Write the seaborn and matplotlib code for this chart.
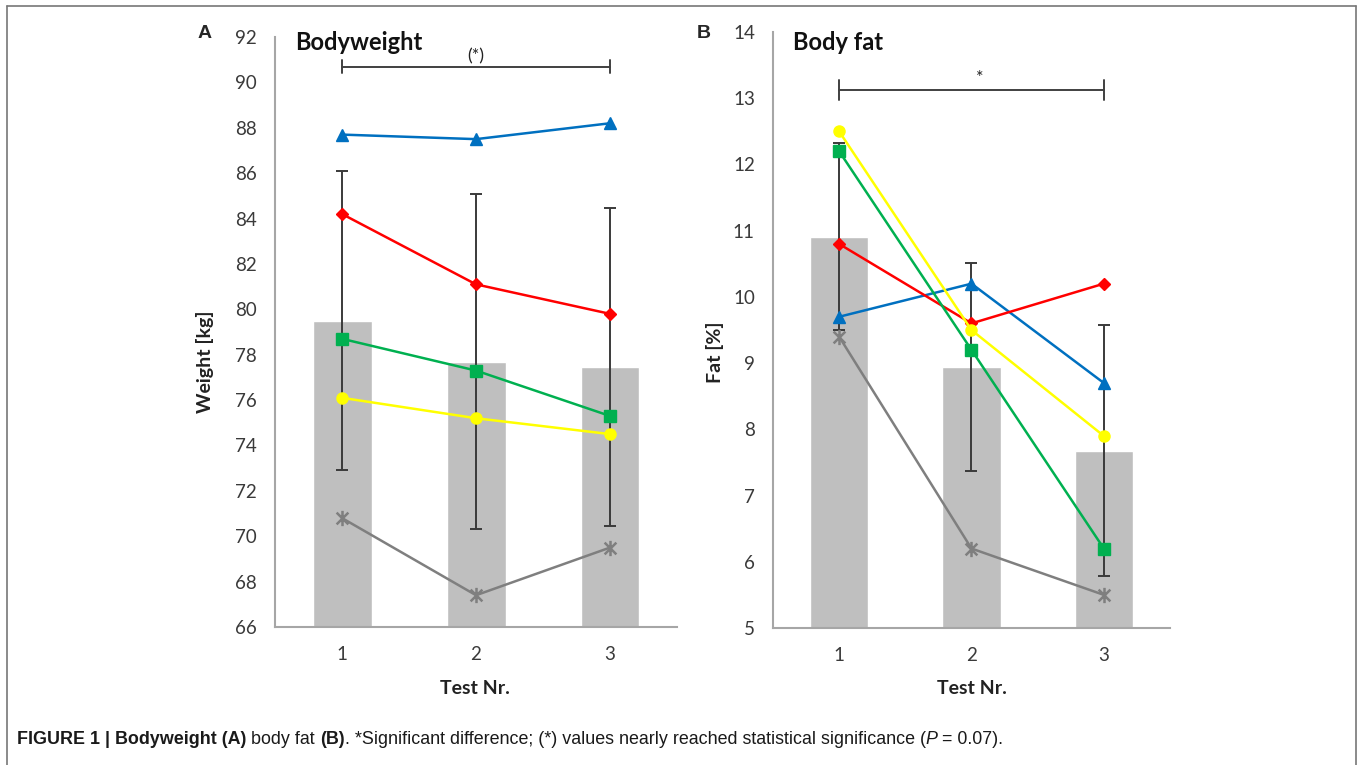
import numpy as np
import pandas as pd
import seaborn as sns
import matplotlib.pyplot as plt
from matplotlib.path import Path
from matplotlib.lines import Line2D

# ---- data ----
tests = ['1', '2', '3']

# panel A: bodyweight [kg]
weight_mean = [79.5, 77.7, 77.45]
weight_sd = [6.6, 7.4, 7.0]
weight_blue = [87.7, 87.5, 88.2]
weight_red = [84.2, 81.1, 79.8]
weight_green = [78.7, 77.3, 75.3]
weight_yellow = [76.1, 75.2, 74.5]
weight_gray = [70.8, 67.4, 69.5]

# panel B: body fat [%]
fat_mean = [10.91, 8.94, 7.68]
fat_sd = [1.41, 1.57, 1.9]
fat_blue = [9.7, 10.2, 8.7]
fat_red = [10.8, 9.6, 10.2]
fat_green = [12.2, 9.2, 6.2]
fat_yellow = [12.5, 9.5, 7.9]
fat_gray = [9.4, 6.2, 5.5]

sns.set_style('white')
plt.rcParams['font.family'] = ['Lato', 'DejaVu Sans']

TXT = '#3a3a3a'
SPINE = '#A6A6A6'

# excel-like star marker: an x with a vertical stroke
star = Path([(-1, -1), (1, 1), (-1, 1), (1, -1), (0, -1.3), (0, 1.3)],
            [Path.MOVETO, Path.LINETO, Path.MOVETO, Path.LINETO, Path.MOVETO, Path.LINETO])

styles = [
    ('#0070C0', '^', 8),
    ('#FF0000', 'D', 6),
    ('#00B050', 's', 8),
    ('#FFFF00', 'o', 8),
    ('#7F7F7F', star, 11),
]


def draw_panel(ax, mean, sd, subjects, yticks):
    df = pd.DataFrame({'test': tests, 'value': mean})
    sns.barplot(data=df, x='test', y='value', color='#BFBFBF', saturation=1,
                width=0.44, errorbar=None, ax=ax, zorder=1)
    pos = np.arange(len(tests))
    ax.errorbar(pos, mean, yerr=sd, fmt='none', ecolor='#3a3a3a', elinewidth=1.4,
                capsize=4, capthick=1.4, zorder=2)
    for vals, (c, m, ms) in zip(subjects, styles):
        ax.plot(pos, vals, color=c, lw=1.8, marker=m, ms=ms, mfc=c, mec=c,
                mew=1.8 if m is star else 1, zorder=3)
    ax.set_xlim(-0.5, 2.5)
    ax.set_ylim(yticks[0], yticks[-1])
    ax.set_yticks(yticks)
    ax.set_xlabel('')
    ax.set_ylabel('')
    ax.tick_params(axis='both', length=0, labelsize=13.5, colors=TXT)
    ax.tick_params(axis='y', pad=13)
    ax.tick_params(axis='x', pad=14)
    for s in ['top', 'right']:
        ax.spines[s].set_visible(False)
    for s in ['left', 'bottom']:
        ax.spines[s].set_color(SPINE)
        ax.spines[s].set_linewidth(1.5)


def bracket(ax, y, h, label, ly, lx=1.0):
    ax.plot([0, 2], [y, y], color='#404040', lw=1.4, zorder=4)
    for x in [0, 2]:
        ax.plot([x, x], [y - h, y + h], color='#404040', lw=1.4, zorder=4)
    ax.text(lx, ly, label, ha='center', va='center', fontsize=13, color='#222222')


fig = plt.figure(figsize=(13.57, 7.65), dpi=100)

axA = fig.add_axes([0.2027, 0.1804, 0.2962, 0.7712])
draw_panel(axA, weight_mean, weight_sd,
           [weight_blue, weight_red, weight_green, weight_yellow, weight_gray],
           list(range(66, 93, 2)))
bracket(axA, 90.7, 0.3, '(*)', 91.15)
axA.text(0.05, 0.99, 'Bodyweight', transform=axA.transAxes, fontsize=17,
         fontweight='bold', color='#111111', va='center', ha='left')

axB = fig.add_axes([0.5696, 0.1791, 0.2926, 0.7790])
draw_panel(axB, fat_mean, fat_sd,
           [fat_blue, fat_red, fat_green, fat_yellow, fat_gray],
           list(range(5, 15)))
bracket(axB, 13.13, 0.15, '*', 13.3, lx=1.06)
axB.text(0.05, 0.983, 'Body fat', transform=axB.transAxes, fontsize=17,
         fontweight='bold', color='#111111', va='center', ha='left')

# axis labels and panel letters
fig.text(205 / 1357, 1 - 362 / 765, 'Weight [kg]', rotation=90, fontsize=14,
         fontweight='bold', color='#222222', ha='center', va='center')
fig.text(715 / 1357, 1 - 352 / 765, 'Fat [%]', rotation=90, fontsize=14,
         fontweight='bold', color='#222222', ha='center', va='center')
fig.text(475 / 1357, 1 - 688 / 765, 'Test Nr.', fontsize=14, fontweight='bold',
         color='#222222', ha='center', va='center')
fig.text(972 / 1357, 1 - 688 / 765, 'Test Nr.', fontsize=14, fontweight='bold',
         color='#222222', ha='center', va='center')
fig.text(205 / 1357, 1 - 34 / 765, 'A', fontsize=14, fontweight='bold',
         family=['Liberation Sans', 'DejaVu Sans'], ha='center', va='center')
fig.text(704 / 1357, 1 - 34 / 765, 'B', fontsize=14, fontweight='bold',
         family=['Liberation Sans', 'DejaVu Sans'], ha='center', va='center')

# frame around the figure (bottom edge is cut off in the original)
fig.add_artist(Line2D([7 / 1357, 7 / 1357], [0, 1 - 6 / 765], transform=fig.transFigure,
                      color='#777777', lw=1.2))
fig.add_artist(Line2D([7 / 1357, 1355.5 / 1357], [1 - 6 / 765, 1 - 6 / 765],
                      transform=fig.transFigure, color='#777777', lw=1.2))
fig.add_artist(Line2D([1355.5 / 1357, 1355.5 / 1357], [0, 1 - 6 / 765],
                      transform=fig.transFigure, color='#777777', lw=1.2))

# caption with mixed weights
cap_family = ['Liberation Sans Narrow', 'Liberation Sans', 'DejaVu Sans']
pieces = [
    ('FIGURE 1 | ', 'bold', 'normal'),
    ('Bodyweight (A)', 'bold', 'normal'),
    (' body fat ', 'normal', 'normal'),
    ('(B)', 'bold', 'normal'),
    ('. *Significant difference; (*) values nearly reached statistical significance (', 'normal', 'normal'),
    ('P', 'normal', 'italic'),
    (' = 0.07).', 'normal', 'normal'),
]
renderer = fig.canvas.get_renderer()
x = 17 / 1357
y = 1 - 739 / 765
for txt, w, st in pieces:
    t = fig.text(x, y, txt, fontsize=12.9, fontweight=w, fontstyle=st,
                 family=cap_family, color='#1a1a1a', va='center', ha='left')
    bb = t.get_window_extent(renderer=renderer)
    x += bb.width / fig.bbox.width

fig.savefig('out.png', dpi=100)
